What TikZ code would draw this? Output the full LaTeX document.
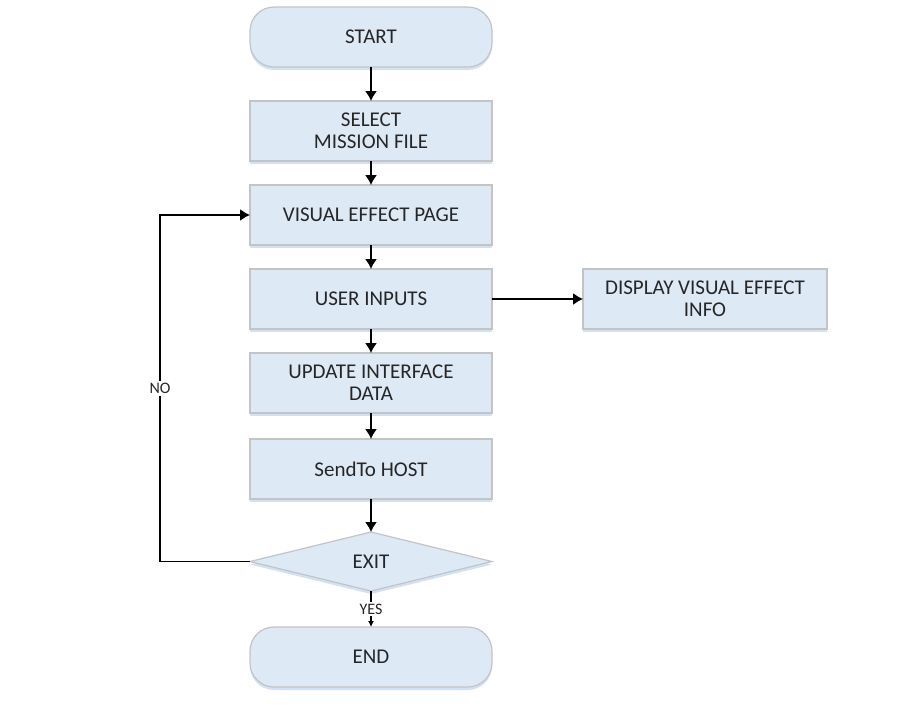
\documentclass[tikz,border=0pt]{standalone}
\usepackage{fontspec}
\setmainfont{Carlito}
\usetikzlibrary{positioning,shapes.geometric,arrows.meta,shadows}
\definecolor{boxblue}{RGB}{222,233,246}
\definecolor{boxline}{RGB}{196,196,196}
\definecolor{shadeblue}{RGB}{210,226,245}
\definecolor{txtgray}{RGB}{38,38,38}

\begin{document}
\begin{tikzpicture}[
x=0.5pt, y=-0.5pt,
node distance=12pt,
    base/.style = {draw=boxline, fill=boxblue, line width=0.6pt,% common look of all boxes
                   text=txtgray, align=center, font=\fontsize{10.5}{11}\selectfont,
                   minimum width=121pt, minimum height=30pt, outer sep=0pt,
                   drop shadow={shadow xshift=0pt, shadow yshift=-1.5pt, fill=shadeblue, opacity=1}},
    proc/.style = {base, rectangle},
    term/.style = {base, rectangle, rounded corners=12pt},
  decide/.style = {base, diamond, shape aspect=4, minimum height=29.5pt},
    flow/.style = {-{Latex[length=5pt,width=6pt]}, line width=0.75pt},
     tag/.style = {fill=white, inner sep=1pt, text=txtgray, font=\fontsize{8}{9}\selectfont},
                        ]
\useasboundingbox (0,0) rectangle (913,709);
% main column
\node[term] (start) at (371,37) {START};
\node[proc, below=17pt of start] (select) {SELECT\\MISSION FILE};
\node[proc, below=of select] (visual) {VISUAL EFFECT PAGE};
\node[proc, below=of visual] (inputs) {USER INPUTS};
\node[proc, right=45.5pt of inputs, minimum width=122pt] (display) {DISPLAY VISUAL EFFECT\\INFO};
\node[proc, below=of inputs] (update) {UPDATE INTERFACE\\DATA};
\node[proc, below=13pt of update] (send) {SendTo HOST};
\node[decide, below=16.5pt of send] (exit) {EXIT};
\node[term, below=18pt of exit] (end) {END};
% connectors
\draw[flow] (start) -- (select);
\draw[flow] (select) -- (visual);
\draw[flow] (visual) -- (inputs);
\draw[flow] (inputs) -- (update);
\draw[flow] (update) -- (send);
\draw[flow] (send) -- (exit);
\draw[flow] (inputs) -- (display);
\draw[flow] (exit.west) -- ++(-45pt,0) |- node[tag, pos=0.25] {NO} (visual.west);
\draw[-{Latex[length=3pt,width=3pt]}, line width=0.75pt] (exit) -- node[tag] {YES} (end);
\end{tikzpicture}
\end{document}
